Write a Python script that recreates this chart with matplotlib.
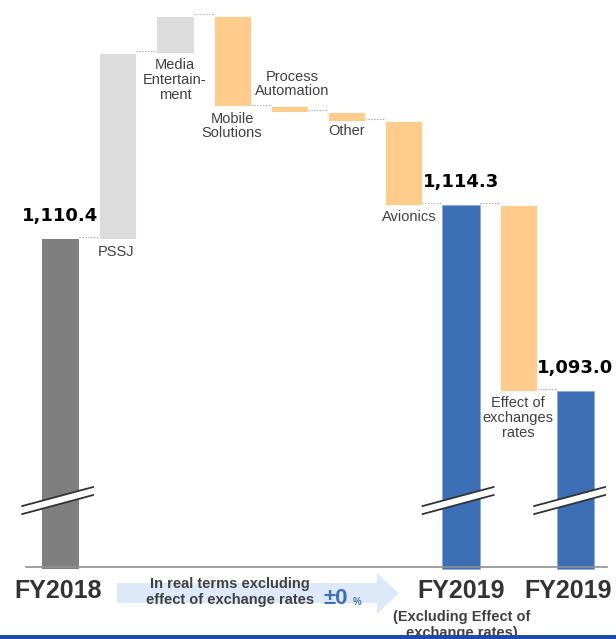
import matplotlib
matplotlib.use('Agg')
import numpy as np
import matplotlib.pyplot as plt
from matplotlib.patches import Polygon, Rectangle


# Data ------------------------------------------------------------ %%%%
start_val = 1110.4
steps = ['PSSJ', 'Media\nEntertain-\nment', 'Mobile\nSolutions',
         'Process\nAutomation', 'Other', 'Avionics']
deltas = [21.3, 4.3, -10.4, -0.6, -1.1, -9.6]
mid_val = 1114.3
fx_label = 'Effect of\nexchanges\nrates'
fx_delta = -21.3
end_val = 1093.0
axis_base = 1072.6     # bottom of the broken axis

c_start = '#7f7f7f'
c_up = '#dcdcdc'
c_down = '#ffcc8c'
c_blue = '#3d6fb7'
c_txt = '#404040'


# Figure ---------------------------------------------------------- %%%%
fig = plt.figure(figsize=(6.16, 6.39), dpi=100)
ax = fig.add_axes([0, 0, 1, 1])
ax.set_xlim(-1.058, 9.711)
ax.set_ylim(1064.58, 1137.78)
ax.axis('off')

w = 0.65
# FY2018
ax.bar(0, start_val - axis_base, bottom=axis_base, width=w, color=c_start, zorder=2)

level = start_val
levels = [level]
for i, d in enumerate(deltas):
    x = i + 1
    lo = min(level, level + d)
    ax.bar(x, abs(d), bottom=lo, width=w, color=c_up if d > 0 else c_down,
           edgecolor='white', lw=0.6, zorder=2)
    level = level + d
    levels.append(level)

# FY2019 excl. fx
ax.bar(7, mid_val - axis_base, bottom=axis_base, width=w, color=c_blue,
       edgecolor='#8aaee0', lw=0.6, zorder=2)
# fx effect
ax.bar(8, abs(fx_delta), bottom=mid_val + fx_delta, width=w, color=c_down,
       edgecolor='white', lw=0.6, zorder=2)
# FY2019
ax.bar(9, end_val - axis_base, bottom=axis_base, width=w, color=c_blue,
       edgecolor='#8aaee0', lw=0.6, zorder=2)

# connectors
conn = levels + [mid_val, mid_val + fx_delta]
for i, v in enumerate(conn):
    ax.plot([i + w / 2, i + 1 - w / 2], [v + 0.2, v + 0.2], ':', color='#909090', lw=0.8, zorder=1)

# baseline
ax.plot([-0.6, 9.55], [axis_base + 0.2, axis_base + 0.2], '-', color='#909090', lw=1.2, zorder=3)

# axis break marks
def brk(xc, yc):
    dx, dy, g = 0.62, 1.09, 0.92
    xs = [xc - dx, xc + dx]
    poly = Polygon([[xc - dx, yc - dy], [xc + dx, yc + dy],
                    [xc + dx, yc + dy - g], [xc - dx, yc - dy - g]],
                   closed=True, fc='white', ec='none', zorder=4)
    ax.add_patch(poly)
    ax.plot(xs, [yc - dy, yc + dy], color='#333333', lw=1.3, zorder=5)
    ax.plot(xs, [yc - dy - g, yc + dy - g], color='#333333', lw=1.3, zorder=5)

for xc in [-0.05, 6.95, 8.9]:
    brk(xc, 1080.9)

# value labels
ax.text(0, start_val + 1.6, '1,110.4', ha='center', va='bottom', fontsize=13,
        fontweight='bold', family='DejaVu Sans')
ax.text(7, mid_val + 1.6, '1,114.3', ha='center', va='bottom', fontsize=13,
        fontweight='bold', family='DejaVu Sans')
ax.text(9, end_val + 1.6, '1,093.0', ha='center', va='bottom', fontsize=13,
        fontweight='bold', family='DejaVu Sans')

# step labels
lab_font = dict(fontsize=10.5, color=c_txt, family='Liberation Sans', linespacing=1.08)
ax.text(0.65, levels[0] - 0.7, steps[0], ha='left', va='top', **lab_font)
ax.text(2, levels[1] - 0.6, steps[1], ha='center', va='top', **lab_font)
ax.text(3, levels[3] - 0.6, steps[2], ha='center', va='top', **lab_font)
ax.text(4.05, levels[3] + 0.9, steps[3], ha='center', va='bottom', **lab_font)
ax.text(5, levels[5] - 0.3, steps[4], ha='center', va='top', **lab_font)
ax.text(6.1, levels[6] - 0.6, steps[5], ha='center', va='top', **lab_font)
ax.text(8, end_val - 0.6, fx_label, ha='center', va='top', **lab_font)


# Decorations in pixel space -------------------------------------- %%%%
ov = fig.add_axes([0, 0, 1, 1])
ov.set_xlim(0, 616)
ov.set_ylim(639, 0)
ov.axis('off')
ov.patch.set_alpha(0)

arrow = Polygon([[117, 583], [377, 583], [377, 573], [399, 593.5], [377, 614],
                 [377, 603], [117, 603]], closed=True, fc='#dde9f8', ec='none')
ov.add_patch(arrow)
ov.text(230, 592, 'In real terms excluding\neffect of exchange rates', ha='center',
        va='center', fontsize=10.5, fontweight='bold', color=c_txt,
        family='Liberation Sans', linespacing=1.15)
ov.text(324, 598, '±0', ha='left', va='center', fontsize=16, fontweight='bold',
        color='#3d6fb7', family='Liberation Sans')
ov.text(353, 602, '%', ha='left', va='center', fontsize=7, fontweight='bold',
        color='#3d6fb7', family='Liberation Sans')

big = dict(fontsize=18, fontweight='bold', color='#333333', family='Liberation Sans')
ov.text(58, 591, 'FY2018', ha='center', va='center', **big)
ov.text(461, 591, 'FY2019', ha='center', va='center', **big)
ov.text(568, 591, 'FY2019', ha='center', va='center', **big)
ov.text(462, 625, '(Excluding Effect of\nexchange rates)', ha='center', va='center',
        fontsize=10.5, fontweight='bold', color=c_txt, family='Liberation Sans',
        linespacing=1.15)

ov.add_patch(Rectangle((0, 635), 616, 5, fc='#1f4aa8', ec='none', zorder=10))

plt.savefig('out.png', dpi=100)
